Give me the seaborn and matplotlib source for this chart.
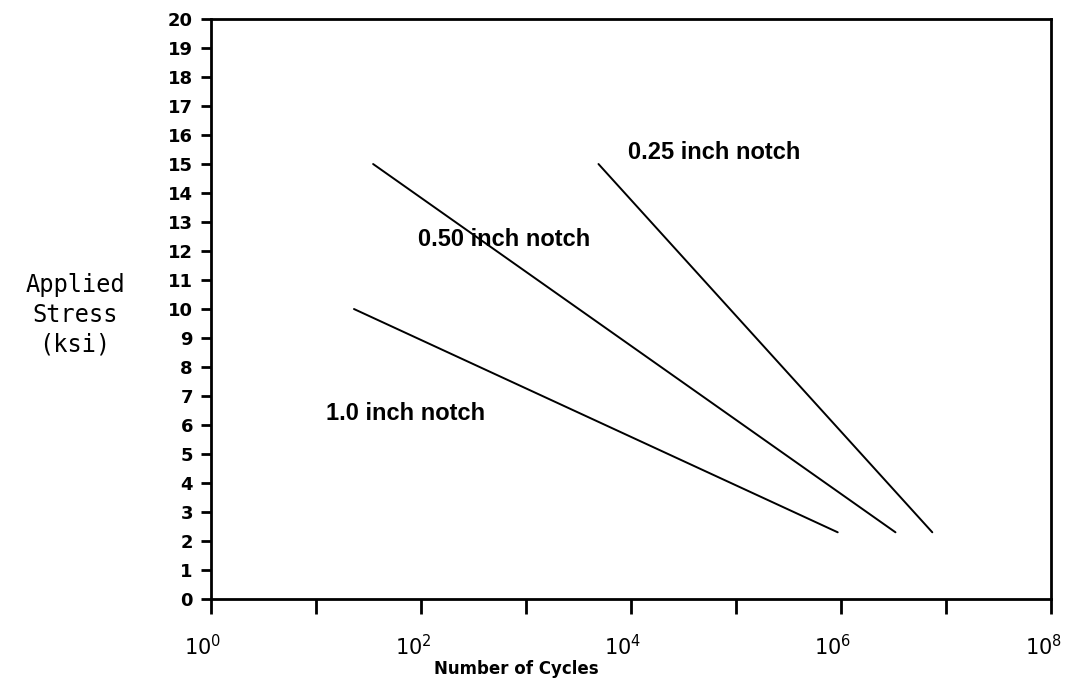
import pandas as pd
import matplotlib
matplotlib.use("Agg")
import matplotlib.pyplot as plt
import matplotlib.transforms as mtransforms
import seaborn as sns

# S-N curves (cycles vs applied stress in ksi)
notch_names = ["1.0 inch notch", "0.50 inch notch", "0.25 inch notch"]
cycles_10 = [23, 9.3e5]
stress_10 = [10.0, 2.3]
cycles_050 = [35, 3.3e6]
stress_050 = [15.0, 2.3]
cycles_025 = [4.9e3, 7.4e6]
stress_025 = [15.0, 2.3]

# label anchors (left edge, vertical centre)
label_x = [12.5, 93, 9.3e3]
label_y = [6.4, 12.4, 15.4]

y_ticks = list(range(0, 21))
x_decades = list(range(0, 9))

rows = []
for name, xs, ys in zip(notch_names,
                        [cycles_10, cycles_050, cycles_025],
                        [stress_10, stress_050, stress_025]):
    for x, y in zip(xs, ys):
        rows.append({"notch": name, "cycles": x, "stress": y})
df = pd.DataFrame(rows)

sns.set_theme(style="ticks")
plt.rcParams["text.color"] = "black"
plt.rcParams["axes.labelcolor"] = "black"

fig = plt.figure(figsize=(10.77, 6.87), dpi=100)
ax = fig.add_axes([0.1959, 0.1281, 0.78, 0.8442])

sns.lineplot(data=df, x="cycles", y="stress", hue="notch",
             palette=["black"] * 3, sort=False, legend=False,
             linewidth=1.4, ax=ax)

ax.set_xscale("log")
ax.set_xlim(1, 1e8)
ax.set_ylim(0, 20)

# spines all round
for s in ax.spines.values():
    s.set_visible(True)
    s.set_linewidth(2)
    s.set_color("black")

ax.set_yticks(y_ticks)
ax.set_yticklabels([str(v) for v in y_ticks], fontsize=13, fontweight="bold",
                   family="DejaVu Sans")
ax.tick_params(axis="y", direction="out", length=7, width=2, pad=6,
               colors="black")

ax.set_xticks([10.0 ** d for d in x_decades])
ax.xaxis.set_minor_locator(matplotlib.ticker.NullLocator())
xlabels = [r"$\mathregular{10^{%d}}$" % d if d % 2 == 0 else "" for d in x_decades]
ax.set_xticklabels(xlabels, fontsize=15, family="DejaVu Sans")
ax.tick_params(axis="x", direction="out", length=11, width=2, pad=14,
               colors="black")
offset = mtransforms.ScaledTranslation(-8 / 100, 0, fig.dpi_scale_trans)
for lab in ax.get_xticklabels():
    lab.set_transform(lab.get_transform() + offset)

ax.set_xlabel("Number of Cycles", fontsize=12, fontweight="bold",
              family="DejaVu Sans")
ax.xaxis.set_label_coords(0.363, -0.105)
ax.set_ylabel("")
fig.text(75 / 1077, 1 - 315 / 687, "Applied\nStress\n(ksi)", ha="center",
         va="center", fontsize=17, family="DejaVu Sans Mono",
         linespacing=1.3)

for name, lx, ly in zip(notch_names, label_x, label_y):
    ax.text(lx, ly, name, ha="left", va="center", fontsize=17,
            fontweight="bold", family="Liberation Sans")

fig.savefig("out.png", dpi=100)
